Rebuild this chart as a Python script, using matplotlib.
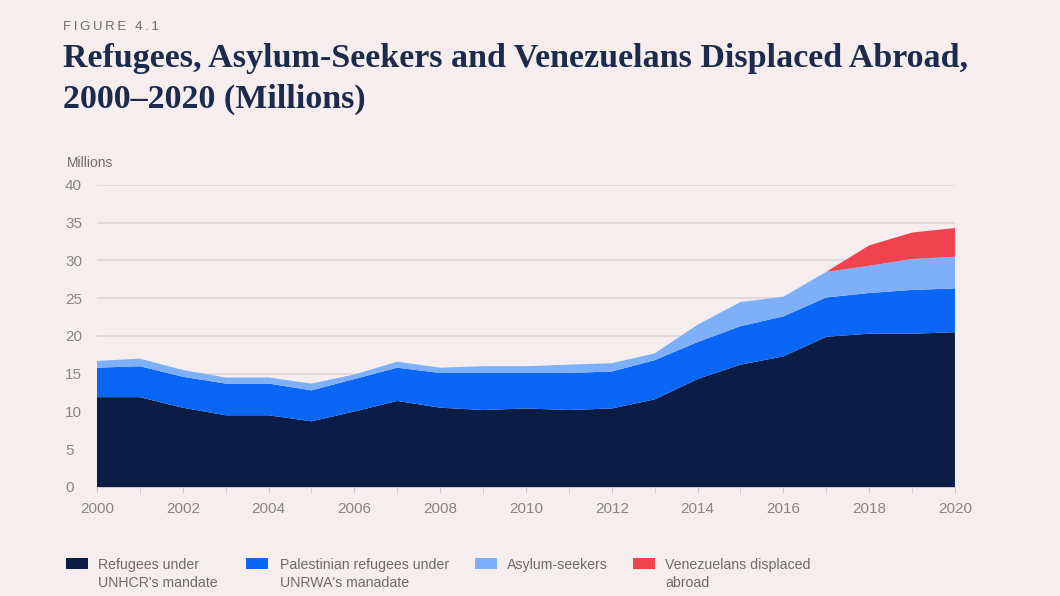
import matplotlib.pyplot as plt
from matplotlib.patches import Rectangle
from matplotlib.ticker import MultipleLocator

years = list(range(2000, 2021))
unhcr = [11.9, 11.9, 10.5, 9.5, 9.5, 8.7, 10.0, 11.4, 10.5, 10.2, 10.4,
         10.2, 10.4, 11.6, 14.3, 16.2, 17.3, 19.9, 20.3, 20.3, 20.5]
unrwa = [3.9, 4.1, 4.1, 4.2, 4.2, 4.1, 4.3, 4.4, 4.6, 4.9, 4.7,
         4.9, 4.9, 5.2, 4.9, 5.1, 5.3, 5.2, 5.4, 5.8, 5.8]
asylum = [0.9, 1.0, 0.9, 0.8, 0.8, 0.9, 0.6, 0.8, 0.7, 0.9, 0.9,
          1.1, 1.1, 0.9, 2.3, 3.2, 2.6, 3.4, 3.6, 4.1, 4.2]
venezuelans = [0, 0, 0, 0, 0, 0, 0, 0, 0, 0, 0,
               0, 0, 0, 0, 0, 0, 0, 2.7, 3.5, 3.8]
labels = ["Refugees under\nUNHCR's mandate",
          "Palestinian refugees under\nUNRWA's manadate",
          "Asylum-seekers",
          "Venezuelans displaced\nabroad"]
colors = ["#0b1d45", "#0a66f6", "#7eb0fa", "#f0434f"]

bg = "#f6eeee"
grey = "#8a8585"
textgrey = "#6f6a6a"
sans = ["Liberation Sans", "DejaVu Sans"]
serif = ["Liberation Serif", "DejaVu Serif"]
W, H = 1060, 596

fig = plt.figure(figsize=(10.6, 5.96), dpi=100, facecolor=bg)
ax = fig.add_axes([0.0915, 0.1829, 0.8094, 0.5067], facecolor=bg)

ax.stackplot(years, unhcr, unrwa, asylum, venezuelans, colors=colors,
             linewidth=0, zorder=3)

ax.set_xlim(2000, 2020)
ax.set_ylim(0, 40)
ax.xaxis.set_major_locator(MultipleLocator(2))
ax.xaxis.set_minor_locator(MultipleLocator(1))
ax.yaxis.set_major_locator(MultipleLocator(5))
ax.grid(axis="y", color="#dcd5d5", linewidth=1.1, zorder=0)
for s in ["left", "right", "top"]:
    ax.spines[s].set_visible(False)
ax.spines["bottom"].set_color("#c9cbd6")
ax.tick_params(axis="x", which="both", length=4, color="#c9cbd6",
               labelsize=11, labelcolor=grey, pad=7)
ax.tick_params(axis="y", length=0, labelsize=11, labelcolor=grey, pad=23)
for t in ax.get_xticklabels() + ax.get_yticklabels():
    t.set_fontfamily(sans)
for t in ax.get_yticklabels():
    t.set_horizontalalignment("left")

# header texts
fig.text(63 / W, 1 - 30 / H, "\u2009".join("FIGURE 4.1"), fontsize=9.5,
         family=sans, color=textgrey, va="baseline")
fig.text(63 / W, 1 - 67 / H,
         "Refugees, Asylum-Seekers and Venezuelans Displaced Abroad,",
         fontsize=24.5, family=serif, weight="bold", color="#1c2b4b",
         va="baseline")
fig.text(63 / W, 1 - 108 / H, "2000\u20132020 (Millions)",
         fontsize=24.5, family=serif, weight="bold", color="#1c2b4b",
         va="baseline")
fig.text(67 / W, 1 - 167 / H, "Millions", fontsize=10,
         family=sans, color=textgrey, va="baseline")

# legend, drawn by hand so the swatch sits next to the first line
sq_x = [66, 246, 475, 633]
txt_x = [98, 280, 507, 665]
for c, lab, sx, tx in zip(colors, labels, sq_x, txt_x):
    fig.add_artist(Rectangle((sx / W, 1 - 569 / H), 22 / W, 11 / H,
                             transform=fig.transFigure, facecolor=c,
                             edgecolor="none"))
    for i, line in enumerate(lab.split("\n")):
        fig.text(tx / W, 1 - (569 + 18 * i) / H, line, fontsize=10.2,
                 family=sans, color=textgrey, va="baseline")

fig.savefig("out.png", dpi=100, facecolor=bg)
